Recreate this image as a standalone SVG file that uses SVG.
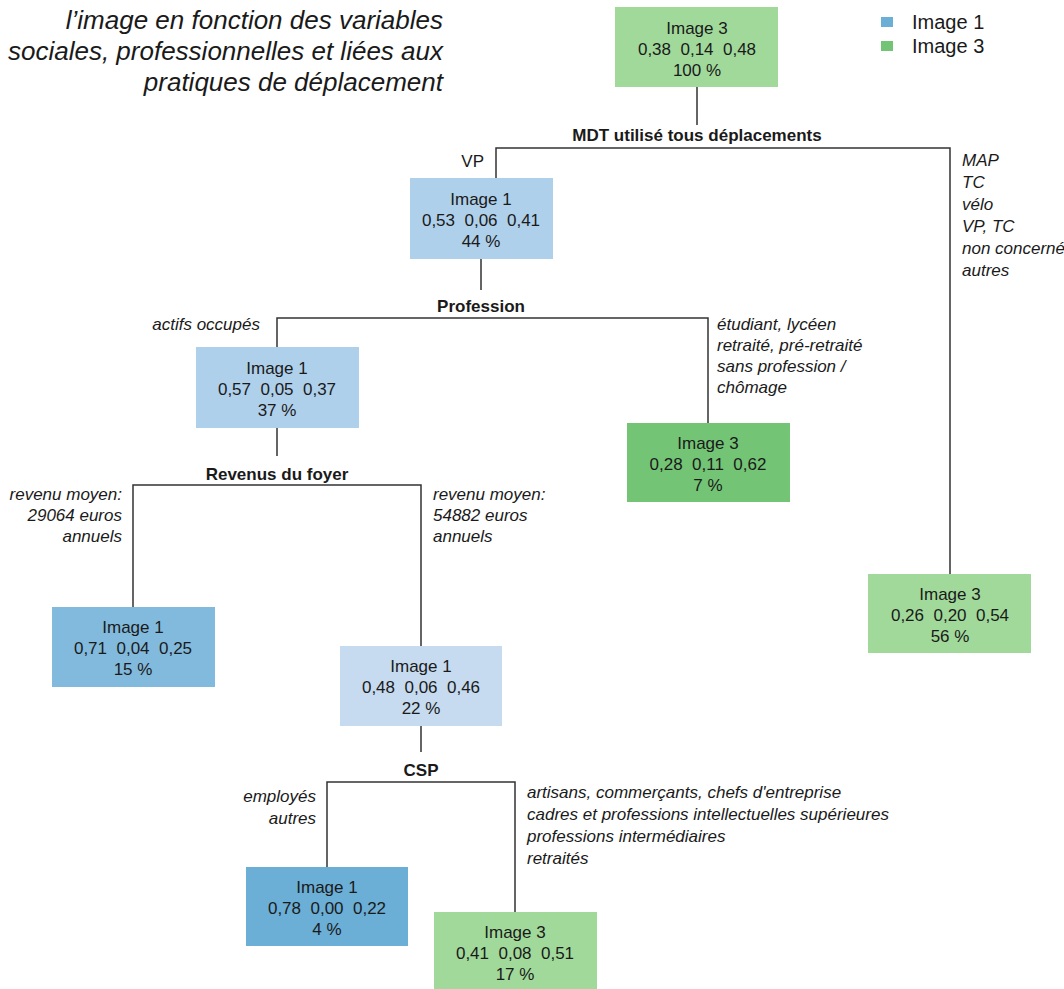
<svg xmlns="http://www.w3.org/2000/svg" width="1064" height="989" viewBox="0 0 1064 989">
<style>
text{font-family:"Liberation Sans",Arial,sans-serif;fill:#1a1a1a}
.n{font-size:17px;text-anchor:middle;white-space:pre}
.t{font-size:26px;font-style:italic;text-anchor:end}
.b{font-size:17px;font-weight:bold;text-anchor:middle}
.l{font-size:17px;font-style:italic}
.r{text-anchor:end}
.lg{font-size:20px}
.c{fill:none;stroke:#333;stroke-width:1.5}
.g1{fill:#a1d99b}.g2{fill:#74c476}
.b1{fill:#afd0ea}.b2{fill:#82badd}.b3{fill:#c6dbef}.b4{fill:#6baed6}
</style>
<g id="title">
<text class="t" x="443" y="29">l’image en fonction des variables</text>
<text class="t" x="443" y="60">sociales, professionnelles et liées aux</text>
<text class="t" x="443" y="91">pratiques de déplacement</text>
</g>
<g id="legend">
<rect x="881" y="17" width="12" height="10" fill="#6baed6"/>
<text class="lg" x="912" y="29">Image 1</text>
<rect x="881" y="41" width="12" height="10" fill="#74c476"/>
<text class="lg" x="912" y="53">Image 3</text>
</g>
<g id="connectors">
<path class="c" d="M697 87V125M496 178V148H950V574"/>
<path class="c" d="M481 259V290M277 347V318H708V423"/>
<path class="c" d="M277 428V456M133 607V485H421V646"/>
<path class="c" d="M421 726V752M327 867V782H515V912"/>
</g>
<g id="splits">
<text class="b" x="697" y="141">MDT utilisé tous déplacements</text>
<text class="n" x="484" y="167" style="text-anchor:end">VP</text>
<text class="l" x="962"><tspan x="962" y="166">MAP</tspan><tspan x="962" y="188">TC</tspan><tspan x="962" y="210">vélo</tspan><tspan x="962" y="232">VP, TC</tspan><tspan x="962" y="254">non concerné</tspan><tspan x="962" y="276">autres</tspan></text>
<text class="b" x="481" y="312">Profession</text>
<text class="l r" x="260" y="330">actifs occupés</text>
<text class="l" x="717"><tspan x="717" y="330">étudiant, lycéen</tspan><tspan x="717" y="351">retraité, pré-retraité</tspan><tspan x="717" y="372">sans profession /</tspan><tspan x="717" y="393">chômage</tspan></text>
<text class="b" x="277" y="480">Revenus du foyer</text>
<text class="l r" x="122"><tspan x="122" y="500">revenu moyen:</tspan><tspan x="122" y="521">29064 euros</tspan><tspan x="122" y="542">annuels</tspan></text>
<text class="l" x="433"><tspan x="433" y="500">revenu moyen:</tspan><tspan x="433" y="521">54882 euros</tspan><tspan x="433" y="542">annuels</tspan></text>
<text class="b" x="421" y="776">CSP</text>
<text class="l r" x="316"><tspan x="316" y="802">employés</tspan><tspan x="316" y="824">autres</tspan></text>
<text class="l" x="527"><tspan x="527" y="798">artisans, commerçants, chefs d'entreprise</tspan><tspan x="527" y="820">cadres et professions intellectuelles supérieures</tspan><tspan x="527" y="842">professions intermédiaires</tspan><tspan x="527" y="864">retraités</tspan></text>
</g>
<g id="n1"><rect class="g1" x="615" y="7" width="163" height="80"/><text class="n" x="697"><tspan x="697" y="34">Image 3</tspan><tspan x="697" y="55">0,38  0,14  0,48</tspan><tspan x="697" y="76">100 %</tspan></text></g>
<g id="n2"><rect class="b1" x="410" y="178" width="143" height="81"/><text class="n" x="481"><tspan x="481" y="205">Image 1</tspan><tspan x="481" y="226">0,53  0,06  0,41</tspan><tspan x="481" y="247">44 %</tspan></text></g>
<g id="n3"><rect class="g1" x="868" y="574" width="163" height="79"/><text class="n" x="950"><tspan x="950" y="600">Image 3</tspan><tspan x="950" y="621">0,26  0,20  0,54</tspan><tspan x="950" y="642">56 %</tspan></text></g>
<g id="n4"><rect class="b1" x="196" y="347" width="163" height="81"/><text class="n" x="277"><tspan x="277" y="374">Image 1</tspan><tspan x="277" y="395">0,57  0,05  0,37</tspan><tspan x="277" y="416">37 %</tspan></text></g>
<g id="n5"><rect class="g2" x="627" y="423" width="163" height="79"/><text class="n" x="708"><tspan x="708" y="449">Image 3</tspan><tspan x="708" y="470">0,28  0,11  0,62</tspan><tspan x="708" y="491">7 %</tspan></text></g>
<g id="n6"><rect class="b2" x="52" y="607" width="163" height="80"/><text class="n" x="133"><tspan x="133" y="633">Image 1</tspan><tspan x="133" y="654">0,71  0,04  0,25</tspan><tspan x="133" y="675">15 %</tspan></text></g>
<g id="n7"><rect class="b3" x="340" y="646" width="162" height="80"/><text class="n" x="421"><tspan x="421" y="672">Image 1</tspan><tspan x="421" y="693">0,48  0,06  0,46</tspan><tspan x="421" y="714">22 %</tspan></text></g>
<g id="n8"><rect class="b4" x="246" y="867" width="162" height="79"/><text class="n" x="327"><tspan x="327" y="893">Image 1</tspan><tspan x="327" y="914">0,78  0,00  0,22</tspan><tspan x="327" y="935">4 %</tspan></text></g>
<g id="n9"><rect class="g1" x="434" y="912" width="163" height="80"/><text class="n" x="515"><tspan x="515" y="938">Image 3</tspan><tspan x="515" y="959">0,41  0,08  0,51</tspan><tspan x="515" y="980">17 %</tspan></text></g>
</svg>
